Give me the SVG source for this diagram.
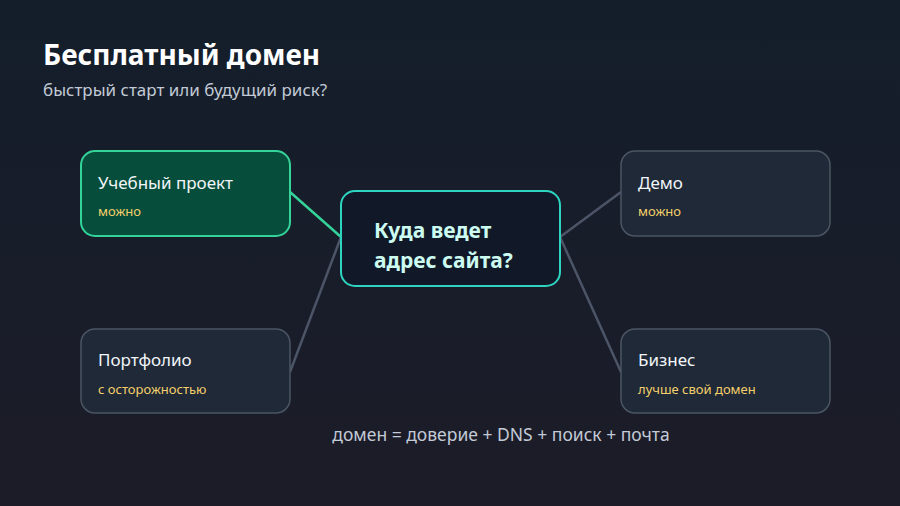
<svg xmlns="http://www.w3.org/2000/svg" width="900" height="506" viewBox="0 0 900 506">
<defs>
<linearGradient id="bg" x1="0" y1="0" x2="0" y2="1"><stop offset="0" stop-color="#141e2b"/><stop offset="1" stop-color="#1c1c28"/></linearGradient>
<style>
text{font-family:"Noto Sans","Open Sans",sans-serif}
.box{fill:#1f2937;stroke:#4b5563;stroke-width:1.5}
.t{fill:#f1f5f9;font-size:17px}
.s{fill:#f5cf6b;font-size:13px}
.c{stroke:#4b5567;stroke-width:2.5;fill:none}
</style>
</defs>
<rect width="900" height="506" fill="url(#bg)"/>
<text x="43" y="65" font-size="28" font-weight="bold" fill="#ffffff">Бесплатный домен</text>
<text x="43" y="96" font-size="17" fill="#c2cad6">быстрый старт или будущий риск?</text>
<g id="connectors">
<line class="c" x1="290" y1="192" x2="341" y2="237" style="stroke:#34d399"/>
<line class="c" x1="290" y1="372" x2="341" y2="237"/>
<line class="c" x1="621" y1="192" x2="560" y2="237"/>
<line class="c" x1="621" y1="372" x2="560" y2="237"/>
</g>
<g id="n1"><rect x="81" y="151" width="209" height="85" rx="14" fill="#064e3b" stroke="#34d399" stroke-width="2"/>
<text class="t" x="98" y="189">Учебный проект</text><text class="s" x="98" y="216">можно</text></g>
<g id="n2"><rect class="box" x="81" y="329" width="209" height="84" rx="14"/>
<text class="t" x="98" y="366">Портфолио</text><text class="s" x="98" y="394">с осторожностью</text></g>
<g id="n3"><rect class="box" x="621" y="151" width="209" height="85" rx="14"/>
<text class="t" x="638" y="189">Демо</text><text class="s" x="638" y="216">можно</text></g>
<g id="n4"><rect class="box" x="621" y="329" width="209" height="84" rx="14"/>
<text class="t" x="638" y="366">Бизнес</text><text class="s" x="638" y="394">лучше свой домен</text></g>
<g id="center"><rect x="341" y="191" width="219" height="95" rx="14" fill="#111827" stroke="#2dd4bf" stroke-width="2"/>
<text x="374" y="238" font-size="21" font-weight="bold" fill="#ccfbf1">Куда ведет</text>
<text x="374" y="268" font-size="21" font-weight="bold" fill="#ccfbf1">адрес сайта?</text></g>
<text x="501" y="441" font-size="17.5" fill="#c2cad6" text-anchor="middle">домен = доверие + DNS + поиск + почта</text>
</svg>
